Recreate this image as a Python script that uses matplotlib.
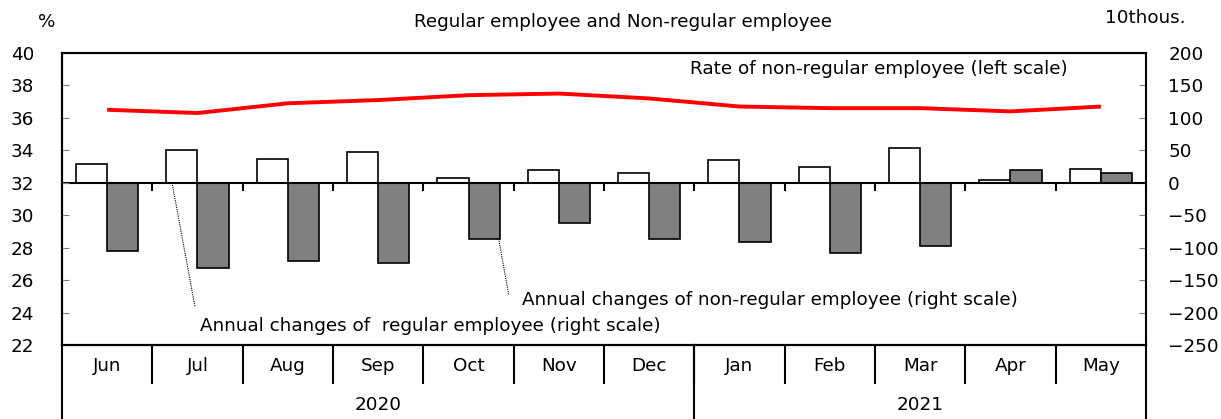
import matplotlib
matplotlib.use("Agg")
import matplotlib.pyplot as plt
import matplotlib.transforms as mtransforms
import numpy as np

months = ["Jun", "Jul", "Aug", "Sep", "Oct", "Nov", "Dec", "Jan", "Feb", "Mar", "Apr", "May"]
years = ["2020", "2021"]
year_spans = [(0, 6), (7, 11)]
regular_change = [29, 51, 37, 47, 8, 20, 15, 35, 25, 53, 4, 21]
nonregular_change = [-105, -132, -121, -124, -86, -62, -87, -91, -108, -97, 19, 15]
nonregular_rate = [36.5, 36.3, 36.9, 37.1, 37.4, 37.5, 37.2, 36.7, 36.6, 36.6, 36.4, 36.7]
left_ticks = list(range(22, 41, 2))
right_ticks = list(range(-250, 201, 50))

FS = 13.2
plt.rcParams['font.family'] = ['DejaVu Sans']

fig = plt.figure(figsize=(12.21, 4.19), dpi=100)
ax = fig.add_axes([62/1221, 1-345/419, (1146-62)/1221, 292/419])
ax2 = ax.twinx()
ax.set_zorder(ax2.get_zorder() + 1)
ax.patch.set_visible(False)

x = np.arange(len(months))
w = 0.345
ax2.bar(x - w/2, regular_change, width=w, color="white", edgecolor="black", linewidth=1.2, zorder=2)
ax2.bar(x + w/2, nonregular_change, width=w, color="#808080", edgecolor="black", linewidth=1.2, zorder=2)
ax2.axhline(0, color="black", linewidth=1.5, zorder=3)
ax.plot(x, nonregular_rate, color="#ff0000", linewidth=2.8, solid_capstyle="butt")

ax.set_xlim(-0.5, len(months) - 0.5)
ax.set_ylim(22, 40)
ax2.set_ylim(-250, 200)
ax.set_yticks(left_ticks)
ax2.set_yticks(right_ticks)
ax.set_xticks([])
ax2.set_xticks([])
ax.tick_params(axis="y", direction="in", length=5, color="#808080", labelsize=FS, pad=20)
ax2.tick_params(axis="y", direction="in", length=5, color="#808080", labelsize=FS, pad=16)
ax2.set_yticklabels([str(v).replace("-", "\u2212") for v in right_ticks])

for a in (ax, ax2):
    for s in a.spines.values():
        s.set_linewidth(1.5)
        s.set_color("black")
ax2.spines["right"].set_color("#808080")
ax2.spines["right"].set_linewidth(1.2)

# small category ticks on zero line
for b in np.arange(0.5, len(months) - 0.5, 1.0):
    ax2.plot([b, b], [0, -11], color="black", linewidth=1.5, zorder=4, clip_on=False)

# category axis below
trans = mtransforms.blended_transform_factory(ax.transData, ax.transAxes)
for i, m in enumerate(months):
    ax.text(i, -0.072, m, transform=trans, ha="center", va="center", fontsize=FS)
for b in np.arange(0.5, len(months) - 0.5, 1.0):
    ax.plot([b, b], [0, -0.130], transform=trans, color="black", linewidth=1.5, clip_on=False)
for (s, e), yl in zip(year_spans, years):
    ax.text((s + e) / 2, -0.205, yl, transform=trans, ha="center", va="center", fontsize=FS)
for b in [-0.5, 6.5, len(months) - 0.5]:
    ax.plot([b, b], [0, -0.26], transform=trans, color="black", linewidth=1.5, clip_on=False)

# texts
fig.text(47/1221, 1-22/419, "%", ha="center", va="center", fontsize=FS)
fig.text(1145/1221, 1-18/419, "10thous.", ha="center", va="center", fontsize=FS)
fig.text(623/1221, 1-22/419, "Regular employee and Non-regular employee", ha="center", va="center", fontsize=FS)
ax.text(6.45, 39.0, "Rate of non-regular employee (left scale)", ha="left", va="center", fontsize=FS)
ax2.text(4.59, -180, "Annual changes of non-regular employee (right scale)", ha="left", va="center", fontsize=FS, zorder=5)
ax2.text(1.028, -220, "Annual changes of  regular employee (right scale)", ha="left", va="center", fontsize=FS, zorder=5)
ax2.plot([0.718, 0.972], [0, -191], color="black", linestyle=(0, (1, 1)), linewidth=0.8, zorder=5)
ax2.plot([4.334, 4.445], [-86, -173], color="black", linestyle=(0, (1, 1)), linewidth=0.8, zorder=5)

fig.savefig("out.png", dpi=100)
